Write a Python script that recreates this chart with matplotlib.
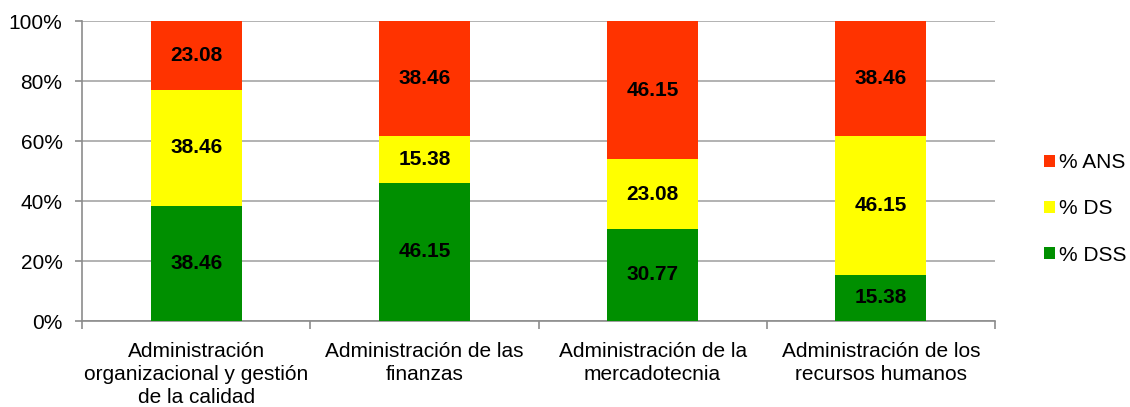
import numpy as np
import matplotlib.pyplot as plt

categories = ['Administración\norganizacional y gestión\nde la calidad',
              'Administración de las\nfinanzas',
              'Administración de la\nmercadotecnia',
              'Administración de los\nrecursos humanos']
dss = [38.46, 46.15, 30.77, 15.38]
ds = [38.46, 15.38, 23.08, 46.15]
ans = [23.08, 38.46, 46.15, 38.46]

plt.rcParams['font.family'] = ['Liberation Sans', 'DejaVu Sans']

fig = plt.figure(figsize=(11.3, 4.07), dpi=100)
ax = fig.add_axes([0.0726, 0.2113, 0.8079, 0.7371])

x = np.arange(len(categories))
w = 0.4
b1 = ax.bar(x, dss, w, color='#008F00', label='% DSS', zorder=3)
b2 = ax.bar(x, ds, w, bottom=dss, color='#FFFF00', label='% DS', zorder=3)
bot = np.array(dss) + np.array(ds)
b3 = ax.bar(x, ans, w, bottom=bot, color='#FF3300', label='% ANS', zorder=3)

for bars, vals in ((b1, dss), (b2, ds), (b3, ans)):
    ax.bar_label(bars, labels=['%.2f' % v for v in vals], label_type='center',
                 fontsize=15, fontweight='bold', color='black', zorder=4)

ax.set_xlim(-0.5, 3.5)
ax.set_ylim(0, 100)
ax.set_yticks([0, 20, 40, 60, 80, 100])
ax.set_yticklabels(['0%', '20%', '40%', '60%', '80%', '100%'], fontsize=15)
ax.yaxis.grid(True, color='#A6A6A6', linewidth=1.2, zorder=0)

ax.set_xticks(np.arange(-0.5, 4, 1))
ax.set_xticklabels([])
ax.set_xticks(x, minor=True)
ax.set_xticklabels(categories, minor=True, fontsize=15, linespacing=1.26)
ax.tick_params(axis='x', which='minor', length=0, pad=15)
ax.tick_params(axis='x', which='major', length=6, color='#8C8C8C', width=1.2)
ax.tick_params(axis='y', length=5, color='#8C8C8C', width=1.2, pad=9)

for s in ['top', 'right']:
    ax.spines[s].set_visible(False)
ax.spines['left'].set_color('#8C8C8C')
ax.spines['bottom'].set_color('#8C8C8C')
ax.spines['left'].set_linewidth(1.2)
ax.spines['bottom'].set_linewidth(1.2)

h, l = ax.get_legend_handles_labels()
fig.legend(h[::-1], l[::-1], loc='center left', bbox_to_anchor=(0.924, 0.4865),
           frameon=False, fontsize=15, handlelength=0.53, handleheight=0.53,
           handletextpad=0.2, labelspacing=1.3, borderpad=0, borderaxespad=0)

fig.savefig('out.png', dpi=100)
